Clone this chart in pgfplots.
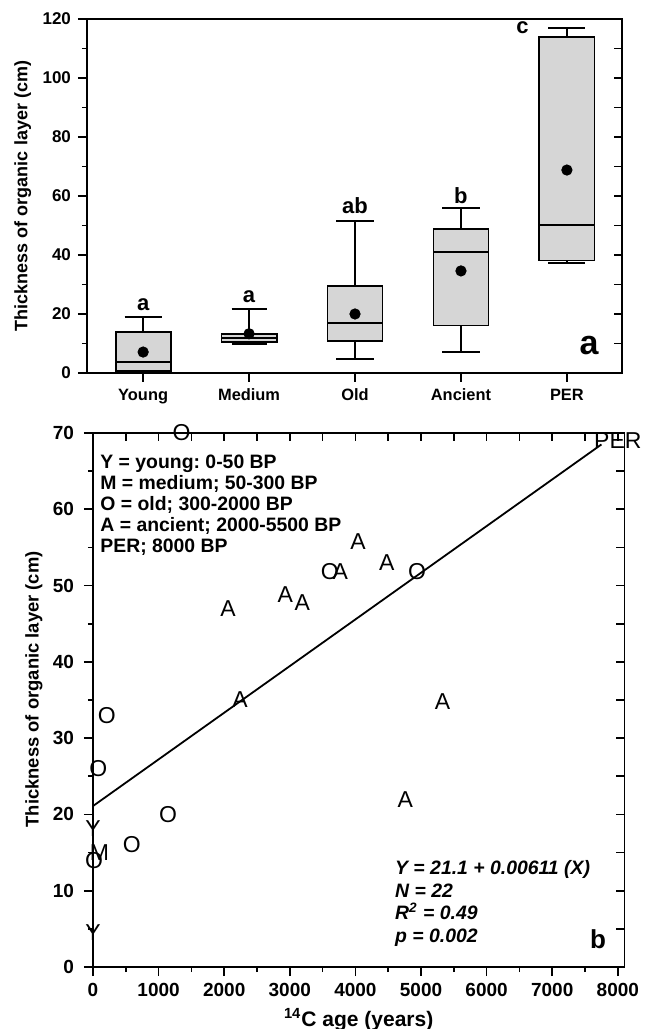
\documentclass[border=0pt]{standalone}
\usepackage{fontspec}
\setmainfont{Liberation Sans}
\frenchspacing
\usepackage{pgfplots}
\pgfplotsset{compat=1.18}
\usepgfplotslibrary{statistics}
\definecolor{boxgray}{gray}{0.84}
\newcommand{\fs}[1]{\fontsize{#1}{#1}\selectfont}

\pgfplotsset{
  base/.style={
    scale only axis,
    /pgf/number format/assume math mode=true,
    /pgf/number format/1000 sep={},
    tick style={line width=0.8pt, black},
    clip=false,
  },
  txt/.style={only marks, mark=text, text mark={#1}, text mark as node=true,
    text mark style={font=\fs{11.5}}},
  bx/.style={fill=boxgray, draw=black, line width=0.9pt, boxplot/draw direction=y},
}

\begin{document}
\begin{tikzpicture}
\useasboundingbox (0,0) rectangle (323pt,514.5pt);

% ---- panel a: box plots
\begin{axis}[base,
  at={(43.5pt,328pt)}, anchor=south west, width=267.5pt, height=177pt,
  xmin=0.47, xmax=5.52, ymin=0, ymax=120,
  xtick={1,2,3,4,5}, xticklabels={Young,Medium,Old,Ancient,PER},
  ytick={0,20,...,120}, minor y tick num=1,
  tick align=outside, xtick pos=left, ytick pos=left,
  major tick length=4.5pt, minor tick length=2.5pt,
  axis line style={line width=1pt},
  yticklabel style={font=\bfseries\fs{8.5}},
  xticklabel style={font=\bfseries\fs{8.2}},
  ylabel={Thickness of organic layer (cm)},
  ylabel style={font=\bfseries\fs{9}, at={(axis description cs:-0.12,0.5)}, anchor=center},
]
\addplot[bx, boxplot prepared={draw position=1, lower whisker=0, lower quartile=0.8,
  median=3.8, upper quartile=13.8, upper whisker=19, box extend=0.52, whisker extend=0.35}] coordinates {};
\addplot[bx, boxplot prepared={draw position=2, lower whisker=9.8, lower quartile=10.6,
  median=11.9, upper quartile=13.2, upper whisker=21.8, box extend=0.52, whisker extend=0.33}] coordinates {};
\addplot[bx, boxplot prepared={draw position=3, lower whisker=4.7, lower quartile=10.8,
  median=16.9, upper quartile=29.6, upper whisker=51.6, box extend=0.52, whisker extend=0.35}] coordinates {};
\addplot[bx, boxplot prepared={draw position=4, lower whisker=7.1, lower quartile=16.1,
  median=40.9, upper quartile=48.9, upper whisker=55.9, box extend=0.52, whisker extend=0.35}] coordinates {};
\addplot[bx, boxplot prepared={draw position=5, lower whisker=37.3, lower quartile=38.1,
  median=50.1, upper quartile=114, upper whisker=117, box extend=0.52, whisker extend=0.35}] coordinates {};
% means
\addplot[only marks, mark=*, mark size=2.6pt, black] coordinates {
  (1,7.1) (2,13.3) (3,20) (4,34.6) (5,68.8)};
\node[font=\bfseries\fs{11}] at (axis cs:1,23) {a};
\node[font=\bfseries\fs{11}] at (axis cs:2,26) {a};
\node[font=\bfseries\fs{11}] at (axis cs:3,56.6) {ab};
\node[font=\bfseries\fs{11}] at (axis cs:4,60.2) {b};
\node[font=\bfseries\fs{11}] at (axis cs:4.58,117) {c};
\node[font=\bfseries\fs{17}] at (axis cs:5.21,9.2) {a};
\end{axis}
\begin{axis}[base,
  at={(43.5pt,328pt)}, anchor=south west, width=267.5pt, height=177pt,
  xmin=0.47, xmax=5.52, ymin=0, ymax=120,
  xtick=\empty, ytick={0,10,...,120}, yticklabels={},
  ytick pos=right, tick align=inside, major tick length=4pt,
  axis line style={line width=1pt},
]
\end{axis}

% ---- panel b: thickness vs 14C age
\begin{axis}[base,
  at={(46.5pt,31pt)}, anchor=south west, width=265.7pt, height=267pt,
  xmin=0, xmax=8100, ymin=0, ymax=70, scaled x ticks=false,
  xtick={0,1000,...,8000}, minor x tick num=1,
  ytick={0,10,...,70}, minor y tick num=1,
  tick align=outside, xtick pos=left, ytick pos=left,
  major tick length=4.5pt, minor tick length=2.5pt,
  axis line style={line width=0.6pt},
  ticklabel style={font=\bfseries\fs{9.5}},
  yticklabel style={xshift=-1.5pt},
  xlabel={\textsuperscript{14}C age (years)},
  xlabel style={font=\bfseries\fs{10.5}, at={(axis description cs:0.5,-0.099)}, anchor=center},
  ylabel={Thickness of organic layer (cm)},
  ylabel style={font=\bfseries\fs{9.2}, at={(axis description cs:-0.111,0.52)}, anchor=center},
]
\addplot[black, line width=0.9pt] coordinates {(0,21.1) (7750,68.5)};
\addplot[txt=Y] coordinates {(0,18.2) (0,4.5)};
\addplot[txt=M] coordinates {(100,15)};
\addplot[txt=O] coordinates {(1350,70) (210,33) (80,26) (15,14) (590,16) (1145,20) (3610,51.8) (4940,51.8)};
\addplot[txt=A] coordinates {(2060,47) (2930,48.8) (3190,47.8) (3770,51.8) (4040,55.8)
  (4480,53) (5330,34.8) (2240,35) (4760,22)};
\addplot[txt=PER] coordinates {(8000,69)};
\node[anchor=north west, align=left, inner sep=0pt,
  font=\bfseries\fontsize{9.7}{10.5}\selectfont] at ([xshift=3.5pt,yshift=-11pt]rel axis cs:0,1)
  {Y = young: 0-50 BP\\M = medium; 50-300 BP\\O = old; 300-2000 BP\\A = ancient; 2000-5500 BP\\PER; 8000 BP};
\node[anchor=north west, align=left, inner sep=0pt,
  font=\bfseries\itshape\fontsize{9.7}{11.3}\selectfont] at (axis cs:4600,14)
  {Y = 21.1 + 0.00611 (X)\\N = 22\\R\textsuperscript{2} = 0.49\\p = 0.002};
\node[font=\bfseries\fs{13}] at (axis cs:7700,3.7) {b};
\end{axis}
\begin{axis}[base,
  at={(46.5pt,31pt)}, anchor=south west, width=265.7pt, height=267pt,
  xmin=0, xmax=8100, ymin=0, ymax=70,
  xtick={500,1000,...,8000}, ytick={5,10,...,70}, xticklabels={}, yticklabels={},
  xtick pos=right, ytick pos=right, tick align=inside, major tick length=4pt,
  axis line style={line width=0.6pt},
]
\end{axis}
\end{tikzpicture}
\end{document}
